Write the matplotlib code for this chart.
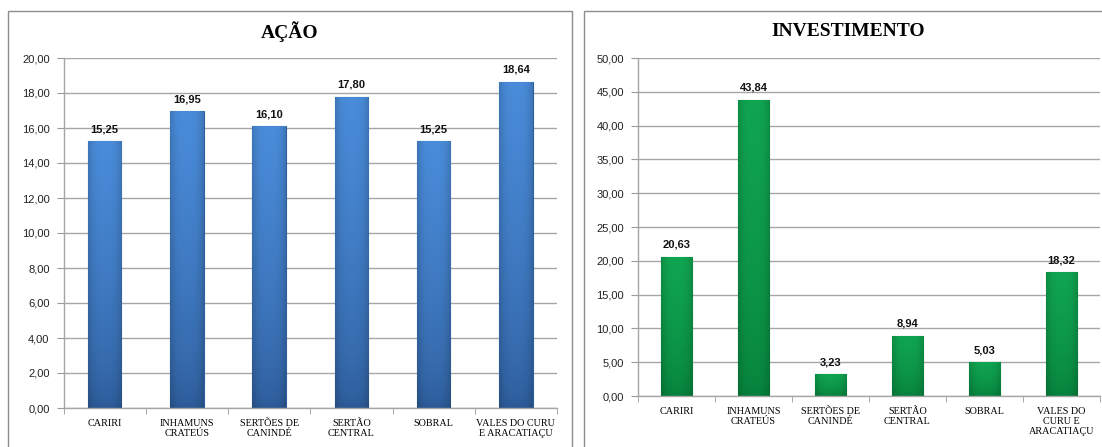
import numpy as np
import matplotlib
matplotlib.use("Agg")
import matplotlib.pyplot as plt
from matplotlib.patches import Rectangle
from matplotlib.colors import to_rgb

# dados
acao_labels = ["CARIRI", "INHAMUNS\nCRATEÚS", "SERTÕES DE\nCANINDÉ", "SERTÃO\nCENTRAL",
               "SOBRAL", "VALES DO CURU\nE ARACATIAÇU"]
acao_vals = [15.25, 16.95, 16.10, 17.80, 15.25, 18.64]

inv_labels = ["CARIRI", "INHAMUNS\nCRATEÚS", "SERTÕES DE\nCANINDÉ", "SERTÃO\nCENTRAL",
              "SOBRAL", "VALES DO\nCURU E\nARACATIAÇU"]
inv_vals = [20.63, 43.84, 3.23, 8.94, 5.03, 18.32]

acao_ticks = np.arange(0, 20.01, 2)
inv_ticks = np.arange(0, 50.01, 5)


def fmt(v):
    return f"{v:.2f}".replace(".", ",")


def shade(ax, bars, top, bottom):
    # gradiente vertical + bordas laterais mais escuras
    xl, yl = ax.get_xlim(), ax.get_ylim()
    t, b = np.array(to_rgb(top)), np.array(to_rgb(bottom))
    ny, nx = 60, 30
    fy = np.linspace(0, 1, ny)[:, None, None] ** 0.6
    fx = np.linspace(-1, 1, nx)[None, :, None]
    img = b + (t - b) * fy
    img = img * (1 - 0.15 * np.abs(fx) ** 3)
    for bar in bars:
        x0, y0 = bar.get_x(), bar.get_y()
        w, h = bar.get_width(), bar.get_height()
        im = ax.imshow(np.clip(img, 0, 1), extent=[x0, x0 + w, y0, y0 + h],
                       origin="lower", aspect="auto", zorder=2, interpolation="bilinear")
        im.set_clip_path(bar)
    ax.set_xlim(xl)
    ax.set_ylim(yl)


def draw(ax, labels, vals, ticks, title, top, bottom, edge, title_x):
    x = np.arange(len(vals))
    bars = ax.bar(x, vals, width=0.41, color=top, edgecolor=edge, linewidth=0.8, zorder=2)
    ax.set_xlim(-0.5, len(vals) - 0.5)
    ax.set_ylim(ticks[0], ticks[-1])
    shade(ax, bars, top, bottom)
    for xi, v in zip(x, vals):
        ax.annotate(fmt(v), (xi, v), xytext=(0, 5), textcoords="offset points",
                    ha="center", va="bottom", fontsize=8, fontweight="bold",
                    family="Liberation Sans", color="#111111", zorder=4)
    ax.set_yticks(ticks)
    ax.set_yticklabels([fmt(t) for t in ticks], family="Liberation Sans", fontsize=8,
                       color="#222222")
    ax.set_xticks(x)
    ax.set_xticklabels(labels, family="Liberation Serif", fontsize=7.3,
                       linespacing=1.15, va="top")
    ax.set_xticks(np.arange(-0.5, len(vals)), minor=True)
    ax.tick_params(axis="x", which="major", length=0, pad=8)
    ax.tick_params(axis="x", which="minor", length=4, color="#9a9a9a", direction="out")
    ax.tick_params(axis="y", length=5, color="#9a9a9a", pad=5)
    ax.yaxis.grid(True, color="#a6a6a6", linewidth=1.0, zorder=0)
    ax.set_axisbelow(True)
    for s in ["top", "right"]:
        ax.spines[s].set_visible(False)
    for s in ["left", "bottom"]:
        ax.spines[s].set_color("#a6a6a6")
        ax.spines[s].set_linewidth(1.0)
    ax.figure.text(title_x, 1 - 32 / 447, title, ha="center", va="center",
                   family="Liberation Serif", fontweight="bold", fontsize=14)


fig = plt.figure(figsize=(11.02, 4.47), dpi=100)
fig.patch.set_facecolor("white")

# molduras dos dois graficos
fig.patches.append(Rectangle((8 / 1102, -0.1), (572 - 8) / 1102, 1.1 - 11 / 447,
                             transform=fig.transFigure, fill=False, edgecolor="#8c8c8c",
                             linewidth=1.0))
fig.patches.append(Rectangle((584 / 1102, -0.1), 0.5, 1.1 - 11 / 447,
                             transform=fig.transFigure, fill=False, edgecolor="#8c8c8c",
                             linewidth=1.0))

ax1 = fig.add_axes([63.5 / 1102, 1 - 408 / 447, (557 - 63.5) / 1102, 350 / 447])
ax2 = fig.add_axes([638 / 1102, 1 - 396 / 447, 462 / 1102, 338 / 447])

draw(ax1, acao_labels, acao_vals, acao_ticks, "AÇÃO", "#4A8CDA", "#2C5A97", "#2D5E9E",
     290 / 1102)
draw(ax2, inv_labels, inv_vals, inv_ticks, "INVESTIMENTO", "#10A551", "#06803B", "#0A6E34",
     848 / 1102)

fig.savefig("out.png", dpi=100)
